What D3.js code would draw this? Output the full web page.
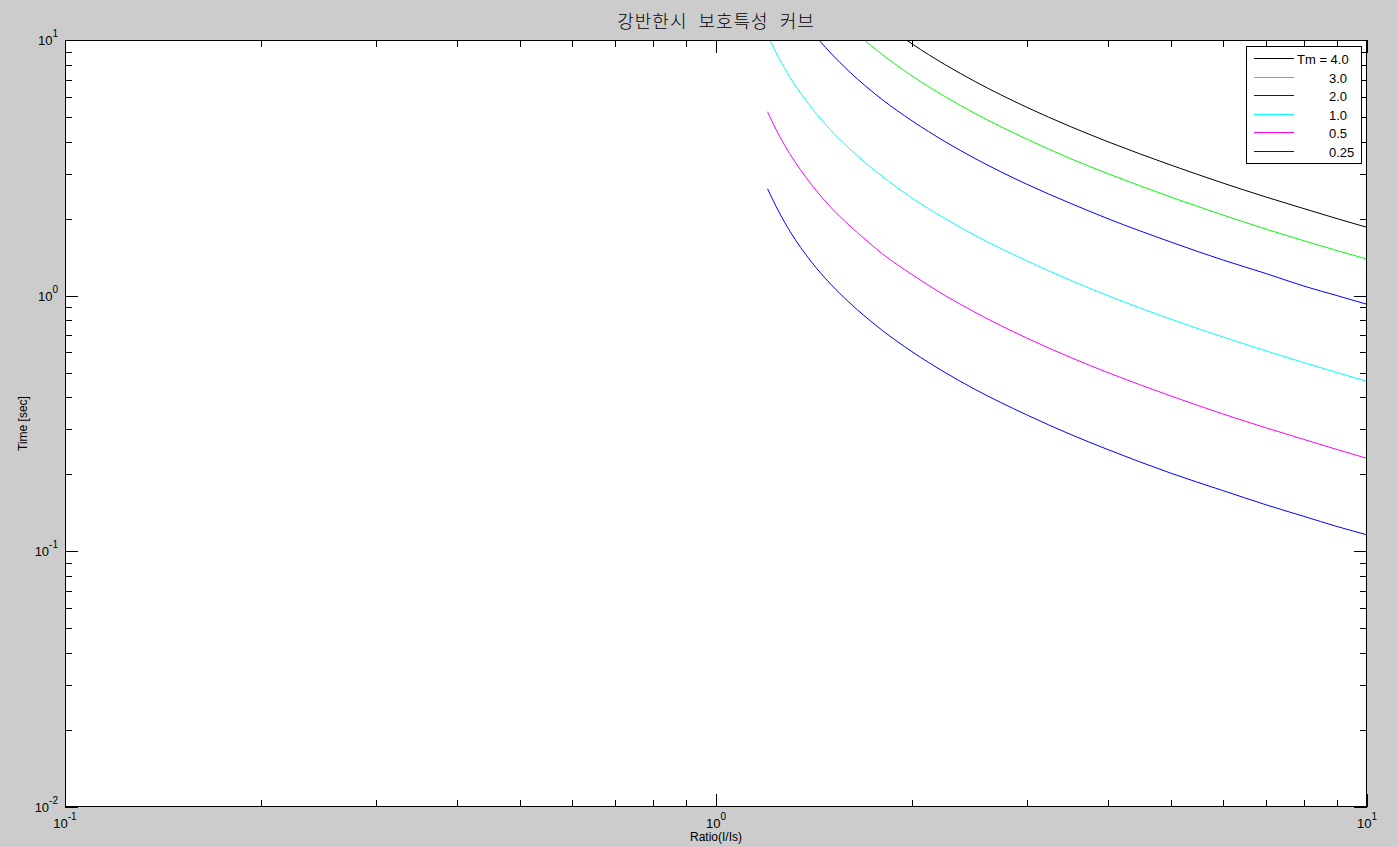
<!DOCTYPE html>
<html>
<head>
<meta charset="utf-8">
<script src="https://cdn.jsdelivr.net/npm/d3@7"></script>
<style>
  html, body { margin: 0; padding: 0; background: #cccccc; }
  svg { display: block; }
  text { font-family: "Liberation Sans", Arial, sans-serif; fill: #000; }
</style>
</head>
<body>
<svg id="chart" width="1398" height="847"></svg>
<script>
// ---- data ----
const ratio = [1.2, 1.25, 1.3, 1.4, 1.5, 1.6, 1.7, 1.8, 2.0, 2.25, 2.5, 3, 3.5, 4, 5, 6, 7, 8, 9, 10];
const tm4_0  = [41.9, 33.9, 28.5, 21.8, 17.8, 15.1, 13.2, 11.7, 9.66, 8.00, 6.88, 5.46, 4.59, 4.00, 3.24, 2.76, 2.43, 2.19, 2.00, 1.85];
const tm3_0  = [31.4, 25.4, 21.4, 16.4, 13.3, 11.3, 9.87, 8.78, 7.24, 6.00, 5.16, 4.10, 3.44, 3.00, 2.43, 2.07, 1.82, 1.64, 1.50, 1.39];
const tm2_0  = [21.0, 16.9, 14.3, 10.9, 8.90, 7.55, 6.58, 5.85, 4.83, 4.00, 3.44, 2.73, 2.30, 2.00, 1.62, 1.38, 1.22, 1.09, 1.00, 0.925];
const tm1_0  = [10.48, 8.47, 7.13, 5.46, 4.45, 3.78, 3.29, 2.93, 2.41, 2.00, 1.72, 1.37, 1.15, 1.00, 0.809, 0.690, 0.608, 0.547, 0.500, 0.4625];
const tm0_5  = [5.24, 4.24, 3.57, 2.73, 2.22, 1.89, 1.65, 1.46, 1.21, 1.00, 0.861, 0.683, 0.574, 0.500, 0.405, 0.345, 0.304, 0.274, 0.250, 0.231];
const tm0_25 = [2.62, 2.12, 1.78, 1.36, 1.11, 0.944, 0.823, 0.732, 0.604, 0.500, 0.430, 0.342, 0.287, 0.250, 0.202, 0.173, 0.152, 0.137, 0.125, 0.116];
const legendLabels = ["Tm = 4.0", "3.0", "2.0", "1.0", "0.5", "0.25"];
const xDecades = [0.1, 1, 10];
const xExponents = ["-1", "0", "1"];
const yDecades = [0.01, 0.1, 1, 10];
const yExponents = ["-2", "-1", "0", "1"];
const titleText = "강반한시 보호특성 커브";
const xLabelText = "Ratio(I/Is)";
const yLabelText = "Time [sec]";

// ---- layout ----
const pL = 65, pR = 1367, pT = 40, pB = 807;
const seriesList = [
  { values: tm4_0,  color: "#000000" },
  { values: tm3_0,  color: "#00ff00" },
  { values: tm2_0,  color: "#0000ff" },
  { values: tm1_0,  color: "#00ffff" },
  { values: tm0_5,  color: "#ff00ff" },
  { values: tm0_25, color: "#0000ff" }
];

const svg = d3.select("#chart");
const x = d3.scaleLog().domain([0.1, 10]).range([pL, pR]);
const y = d3.scaleLog().domain([0.01, 10]).range([pB, pT]);

// plot area
svg.append("rect").attr("x", pL).attr("y", pT)
  .attr("width", pR - pL).attr("height", pB - pT).attr("fill", "#ffffff");

svg.append("defs").append("clipPath").attr("id", "clip")
  .append("rect").attr("x", pL).attr("y", pT)
  .attr("width", pR - pL).attr("height", pB - pT);

// minor tick values
function minors(decades) {
  const out = [];
  for (let i = 0; i < decades.length - 1; i++)
    for (let k = 2; k <= 9; k++) out.push(decades[i] * k);
  return out;
}
const xMinor = minors(xDecades), yMinor = minors(yDecades);

function styleAxis(g) {
  g.select(".domain").remove();
  g.selectAll(".tick line").attr("stroke", "#000").attr("stroke-width", 1).attr("shape-rendering", "crispEdges");
  g.selectAll(".tick text").remove();
}
const MAJ = 13, MIN = 7;
// bottom
svg.append("g").attr("transform", `translate(0,${pB})`)
  .call(d3.axisBottom(x).tickValues(xDecades).tickSize(-MAJ).tickFormat("")).call(styleAxis);
svg.append("g").attr("transform", `translate(0,${pB})`)
  .call(d3.axisBottom(x).tickValues(xMinor).tickSize(-MIN).tickFormat("")).call(styleAxis);
// top
svg.append("g").attr("transform", `translate(0,${pT})`)
  .call(d3.axisTop(x).tickValues(xDecades).tickSize(-MAJ).tickFormat("")).call(styleAxis);
svg.append("g").attr("transform", `translate(0,${pT})`)
  .call(d3.axisTop(x).tickValues(xMinor).tickSize(-MIN).tickFormat("")).call(styleAxis);
// left
svg.append("g").attr("transform", `translate(${pL},0)`)
  .call(d3.axisLeft(y).tickValues(yDecades).tickSize(-MAJ).tickFormat("")).call(styleAxis);
svg.append("g").attr("transform", `translate(${pL},0)`)
  .call(d3.axisLeft(y).tickValues(yMinor).tickSize(-MIN).tickFormat("")).call(styleAxis);
// right
svg.append("g").attr("transform", `translate(${pR},0)`)
  .call(d3.axisRight(y).tickValues(yDecades).tickSize(-MAJ).tickFormat("")).call(styleAxis);
svg.append("g").attr("transform", `translate(${pR},0)`)
  .call(d3.axisRight(y).tickValues(yMinor).tickSize(-MIN).tickFormat("")).call(styleAxis);

// curves
const line = d3.line()
  .x((d, i) => x(ratio[i]))
  .y(d => y(d))
  .curve(d3.curveMonotoneX);
const curves = svg.append("g").attr("clip-path", "url(#clip)");
seriesList.forEach(s => {
  curves.append("path").attr("d", line(s.values))
    .attr("fill", "none").attr("stroke", s.color).attr("stroke-width", 1);
});

// box
svg.append("rect").attr("x", pL + 0.5).attr("y", pT + 0.5)
  .attr("width", pR - pL - 1).attr("height", pB - pT - 1)
  .attr("fill", "none").attr("stroke", "#000").attr("stroke-width", 1);

// tick labels
xDecades.forEach((v, i) => {
  const t = svg.append("text").attr("x", x(v)).attr("y", 828)
    .attr("text-anchor", "middle").attr("font-size", 13);
  t.append("tspan").text("10");
  t.append("tspan").attr("dy", -8).attr("font-size", 10).text(xExponents[i]);
});
yDecades.forEach((v, i) => {
  const t = svg.append("text").attr("x", 58).attr("y", y(v) + 5)
    .attr("text-anchor", "end").attr("font-size", 13);
  t.append("tspan").text("10");
  t.append("tspan").attr("dy", -8).attr("font-size", 10).text(yExponents[i]);
});

// axis labels and title
svg.append("text").attr("x", (pL + pR) / 2).attr("y", 841)
  .attr("text-anchor", "middle").attr("font-size", 12).text(xLabelText);
svg.append("text").attr("transform", `translate(27,${(pT + pB) / 2}) rotate(-90)`)
  .attr("text-anchor", "middle").attr("font-size", 12).text(yLabelText);
svg.append("text").attr("x", (pL + pR) / 2).attr("y", 28)
  .attr("text-anchor", "middle").attr("font-size", 18)
  .style("font-family", '"Noto Sans CJK KR", sans-serif')
  .style("font-weight", 300)
  .attr("letter-spacing", 1)
  .attr("word-spacing", 6)
  .text(titleText);

// legend
const lg = svg.append("g");
lg.append("rect").attr("x", 1246.5).attr("y", 46.5).attr("width", 115).attr("height", 117)
  .attr("fill", "#fff").attr("stroke", "#000").attr("stroke-width", 1);
legendLabels.forEach((lab, i) => {
  const ry = Math.round(58 + i * 18.6) + 0.5;
  lg.append("line").attr("x1", 1254).attr("x2", 1294).attr("y1", ry).attr("y2", ry)
    .attr("stroke", seriesList[i].color).attr("stroke-width", 1);
  lg.append("text").attr("x", i === 0 ? 1297 : 1329).attr("y", ry + 5)
    .attr("font-size", 13).text(lab);
});
</script>
</body>
</html>
